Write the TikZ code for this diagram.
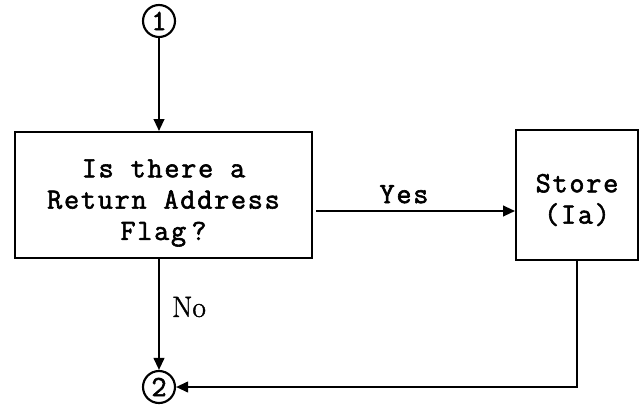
\documentclass[tikz,border=0pt]{standalone}
\usepackage{fontspec}
\newfontfamily\twfont{Latin Modern Mono}[LetterSpace=6,FakeBold=2]
\newfontfamily\digfont{Latin Modern Mono}[FakeBold=2]
\newfontfamily\rmfontb{Latin Modern Roman}[FakeBold=1.2]
\usetikzlibrary{arrows.meta,calc}
\tikzset{
  px/.style={x=0.75pt,y=-0.75pt},
  box/.style={draw,line width=1.5pt,inner sep=0pt},
  conn/.style={draw,line width=1.6pt,circle,inner sep=0pt,minimum size=24pt,font=\fontsize{22}{22}\selectfont\digfont},
  arr/.style={line width=1.5pt,-{Triangle[length=9pt,width=8pt]}},
  tw/.style={font=\fontsize{22}{23.5}\selectfont\twfont,align=center},
  rm/.style={font=\fontsize{22}{24}\selectfont\rmfontb}
}
\begin{document}
\begin{tikzpicture}[px]
\useasboundingbox (0,0) rectangle (641,404);
\node[conn] (c1) at (159,21) {1};
\node[box,minimum width=222.75pt,minimum height=94.5pt] (q) at (163.5,195) {};
\node[tw] (qt) at (163.5,203) {Is there a\\Return Address\\Flag\hspace{4pt}?};
\node[box,minimum width=91.5pt,minimum height=97.5pt] (s) at (577,195) {};
\node[tw] (st) at (577,200) {Store\\(Ia)};
\node[conn] (c2) at (159,387) {2};
\draw[arr] (c1.south) -- (c1.south |- q.north);
\draw[arr] ([shift={(3,16)}]q.east) coordinate (ya) -- (ya -| s.west);
\node[tw,anchor=south] (yes) at (404,208) {Yes};
\draw[arr] (q.south -| c2.north) -- (c2.north);
\node[rm] (no) at (189,307) {No};
\draw[arr] (s.south) -- (s.south |- c2.east) -- (c2.east);
\end{tikzpicture}
\end{document}
